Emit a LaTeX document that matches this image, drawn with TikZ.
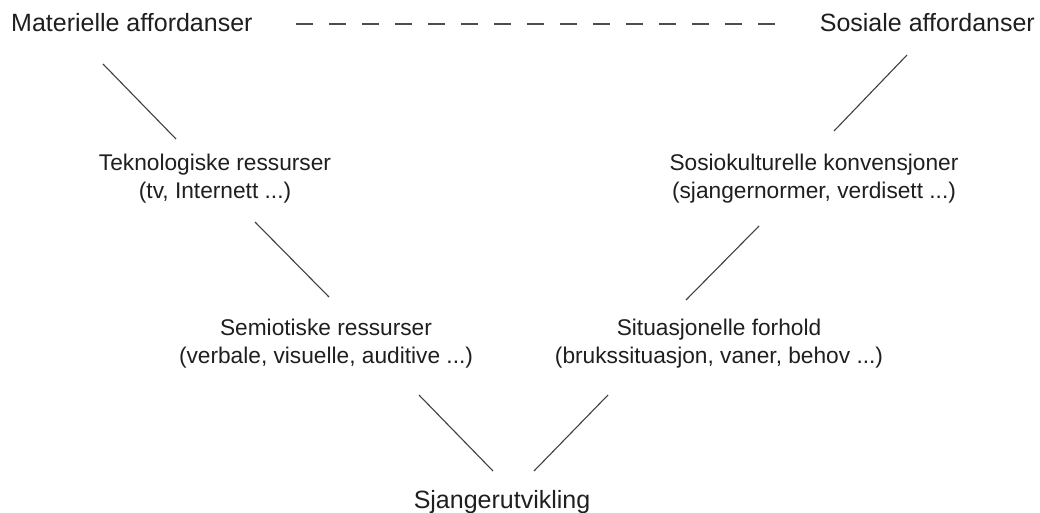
\documentclass[tikz,border=0pt]{standalone}
\usepackage{fontspec}
\setmainfont{Liberation Sans}
\begin{document}
\begin{tikzpicture}[x=1pt,y=-1pt,
  big/.style={inner sep=0pt,text=black!88,font=\fontsize{25}{30}\selectfont},
  mid/.style={inner sep=0pt,text=black!88,align=center,font=\fontsize{22.7}{28}\selectfont},
  link/.style={draw=black!75,line width=1.1pt},
  dashlink/.style={draw=black!70,line width=1.3pt,dash pattern=on 17pt off 16pt}]
\useasboundingbox[fill=white] (0,0) rectangle (1040,513);
\node[big,anchor=base west] (mat) at (11,32) {Materielle affordanser};
\node[big,anchor=base east] (sos) at (1035,32) {Sosiale affordanser};
\node[mid,anchor=base] (tek) at (215,198) {Teknologiske ressurser\\(tv, Internett ...)};
\node[mid,anchor=base] (kon) at (814,198) {Sosiokulturelle konvensjoner\\(sjangernormer, verdisett ...)};
\node[mid,anchor=base] (sem) at (326,363) {Semiotiske ressurser\\(verbale, visuelle, auditive ...)};
\node[mid,anchor=base] (sit) at (719,363) {Situasjonelle forhold\\(brukssituasjon, vaner, behov ...)};
\node[big,anchor=base] (sja) at (502,508) {Sjangerutvikling};
\coordinate (d1) at (296,24);
\coordinate (d2) at (776,24);
\coordinate (a1) at (103,64);  \coordinate (a2) at (176,139);
\coordinate (b1) at (907,55);  \coordinate (b2) at (834,131);
\coordinate (c1) at (255,222); \coordinate (c2) at (329,297);
\coordinate (e1) at (759,226); \coordinate (e2) at (686,300);
\coordinate (f1) at (419,395); \coordinate (f2) at (493,471);
\coordinate (g1) at (608,395); \coordinate (g2) at (534,471);
\draw[dashlink] (d1) -- (d2);
\draw[link] (a1) -- (a2);
\draw[link] (b1) -- (b2);
\draw[link] (c1) -- (c2);
\draw[link] (e1) -- (e2);
\draw[link] (f1) -- (f2);
\draw[link] (g1) -- (g2);
\end{tikzpicture}
\end{document}
